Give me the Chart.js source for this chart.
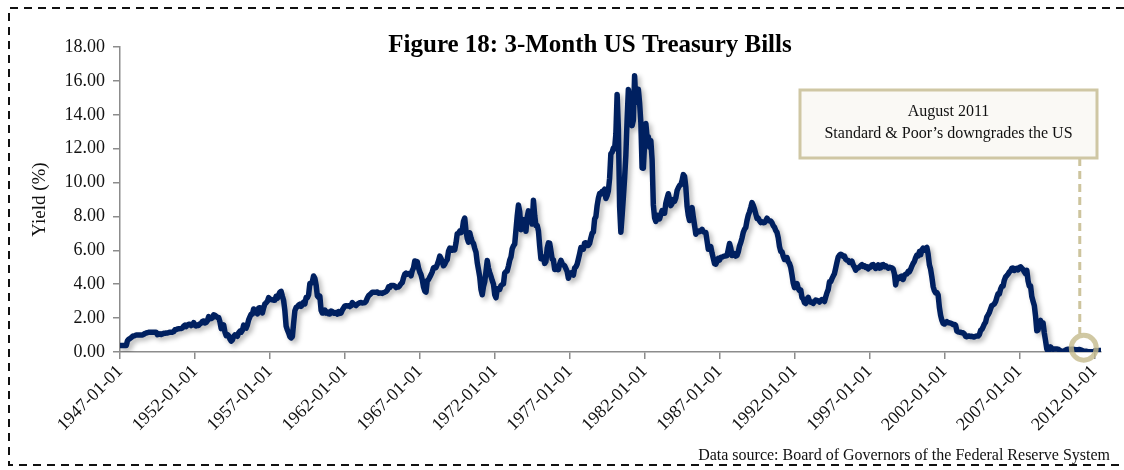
<!DOCTYPE html>
<html>
<head>
<meta charset="utf-8">
<script src="https://cdn.jsdelivr.net/npm/chart.js@4.4.0/dist/chart.umd.min.js"></script>
<style>
  body { margin: 0; background: #fff; }
  #wrap { width: 1124px; height: 470px; }
</style>
</head>
<body>
<div id="wrap"><canvas id="myChart" width="1124" height="470"></canvas></div>
<script>
// monthly 3-month T-bill yield (%), first value is 1947-01
const startYear = 1947;
const yields1940s = [
  0.38,0.38,0.38,0.38,0.38,0.38,0.66,0.75,0.80,0.85,0.92,0.95,
  0.97,1.00,1.00,1.00,1.00,1.00,1.00,1.05,1.09,1.12,1.14,1.16,
  1.17,1.17,1.17,1.17,1.17,1.17,1.02,1.04,1.07,1.04,1.07,1.10
];
const yields1950s = [
  1.10,1.12,1.12,1.15,1.16,1.16,1.17,1.21,1.31,1.32,1.36,1.37,
  1.38,1.39,1.42,1.52,1.58,1.50,1.59,1.64,1.64,1.56,1.61,1.73,
  1.57,1.54,1.59,1.57,1.67,1.70,1.81,1.83,1.71,1.74,1.85,2.09,
  1.96,1.97,2.01,2.19,2.16,2.11,2.04,2.04,1.79,1.38,1.44,1.60,
  1.18,0.97,1.03,0.96,0.76,0.64,0.72,0.92,1.01,0.98,0.93,1.14,
  1.23,1.17,1.28,1.59,1.45,1.41,1.60,1.90,2.07,2.23,2.24,2.54,
  2.41,2.32,2.25,2.60,2.61,2.49,2.31,2.60,2.84,2.90,2.99,3.21,
  3.11,3.10,3.08,3.06,3.06,3.29,3.16,3.37,3.53,3.58,3.29,3.04,
  2.44,1.53,1.30,1.13,0.91,0.83,0.91,1.69,2.44,2.63,2.67,2.77,
  2.82,2.70,2.80,2.95,2.84,3.21,3.20,3.38,4.04,4.05,4.15,4.49
];
const yields1960s = [
  4.35,3.96,3.31,3.23,3.29,2.46,2.30,2.30,2.48,2.30,2.37,2.25,
  2.24,2.42,2.39,2.29,2.29,2.33,2.24,2.39,2.28,2.30,2.48,2.60,
  2.72,2.73,2.72,2.73,2.68,2.73,2.92,2.82,2.78,2.74,2.83,2.87,
  2.91,2.92,2.89,2.90,2.92,2.99,3.18,3.32,3.38,3.45,3.52,3.52,
  3.52,3.53,3.54,3.47,3.48,3.48,3.46,3.50,3.53,3.57,3.64,3.84,
  3.81,3.93,3.93,3.93,3.89,3.80,3.84,3.84,3.92,4.03,4.09,4.38,
  4.59,4.65,4.59,4.62,4.64,4.50,4.80,4.96,5.37,5.35,5.32,4.96,
  4.72,4.56,4.26,3.84,3.60,3.54,4.21,4.27,4.42,4.56,4.73,4.97,
  5.00,4.98,5.17,5.38,5.66,5.52,5.31,5.09,5.19,5.35,5.45,5.94,
  6.13,6.12,6.01,6.11,6.03,6.43,6.98,7.01,7.13,7.04,7.19,7.72
];
const yields1970s = [
  7.91,7.16,6.71,6.48,7.04,6.74,6.50,6.41,6.12,5.90,5.28,4.87,
  4.44,3.70,3.38,3.86,4.14,4.75,5.40,4.94,4.69,4.46,4.22,4.01,
  3.38,3.20,3.73,3.71,3.69,3.91,3.98,4.02,4.66,4.74,4.78,5.07,
  5.41,5.60,6.09,6.26,6.36,7.19,8.01,8.67,8.29,7.22,7.83,7.45,
  7.77,7.12,7.96,8.33,8.23,7.90,7.55,8.96,8.06,7.46,7.47,7.15,
  6.26,5.50,5.49,5.61,5.23,5.34,6.13,6.44,6.42,5.96,5.48,5.44,
  4.87,4.88,5.00,4.86,5.20,5.41,5.23,5.14,5.08,4.92,4.75,4.35,
  4.62,4.67,4.60,4.54,4.96,5.02,5.19,5.49,5.81,6.16,6.10,6.07,
  6.44,6.45,6.29,6.29,6.41,6.73,7.01,7.08,7.85,7.99,8.64,9.08,
  9.35,9.32,9.48,9.46,9.61,9.06,9.24,9.52,10.26,11.70,11.79,12.04
];
const yields1980s = [
  12.00,12.86,15.20,13.20,8.58,7.07,8.06,9.13,10.27,11.62,13.73,15.49,
  15.02,14.79,13.36,13.69,16.30,14.73,14.95,15.51,14.70,13.54,10.86,10.85,
  12.28,13.48,12.68,12.70,12.09,12.47,11.35,8.68,7.92,7.71,8.07,7.94,
  7.86,8.11,8.35,8.21,8.19,8.79,9.08,9.34,9.00,8.64,8.76,9.00,
  8.90,9.09,9.52,9.69,9.83,9.87,10.12,10.47,10.37,9.74,8.61,8.06,
  7.76,8.27,8.52,7.95,7.48,6.95,7.08,7.14,7.10,7.16,7.24,7.10,
  7.07,7.06,6.56,6.06,6.15,6.21,5.83,5.53,5.21,5.18,5.35,5.53,
  5.43,5.59,5.59,5.64,5.66,5.67,5.69,6.04,6.40,6.13,5.69,5.77,
  5.81,5.66,5.70,5.91,6.26,6.46,6.73,7.06,7.24,7.35,7.76,8.07,
  8.27,8.53,8.82,8.65,8.43,8.15,7.88,7.90,7.75,7.64,7.69,7.63
];
const yields1990s = [
  7.64,7.74,7.90,7.77,7.74,7.73,7.62,7.45,7.36,7.17,7.06,6.74,
  6.22,5.94,5.91,5.65,5.46,5.57,5.58,5.33,5.22,4.99,4.56,4.07,
  3.80,3.84,4.04,3.75,3.63,3.66,3.21,3.13,2.91,2.86,3.13,3.22,
  3.00,2.93,2.95,2.87,2.96,3.07,3.04,3.02,2.95,3.02,3.10,3.06,
  2.98,3.25,3.50,3.68,4.14,4.14,4.33,4.48,4.62,4.95,5.29,5.60,
  5.71,5.77,5.73,5.65,5.67,5.47,5.42,5.40,5.28,5.28,5.36,5.14,
  5.00,4.83,4.96,4.95,5.02,5.09,5.15,5.05,5.09,4.99,5.03,4.91,
  5.03,5.01,5.14,5.16,5.05,4.93,5.05,5.14,4.95,4.97,5.14,5.16,
  5.04,5.09,5.03,4.95,5.00,4.98,4.96,4.90,4.61,3.96,4.41,4.39,
  4.34,4.45,4.48,4.28,4.51,4.59,4.60,4.76,4.73,4.88,5.07,5.23
];
const yields2000s = [
  5.34,5.57,5.72,5.67,5.92,5.74,6.03,6.13,6.01,6.11,6.17,5.77,
  5.15,4.88,4.42,3.87,3.62,3.49,3.51,3.36,2.64,2.16,1.87,1.69,
  1.65,1.73,1.79,1.72,1.73,1.70,1.68,1.62,1.63,1.58,1.23,1.19,
  1.17,1.17,1.13,1.13,1.07,0.92,0.90,0.95,0.94,0.92,0.93,0.90,
  0.88,0.93,0.94,0.94,1.02,1.27,1.33,1.48,1.65,1.76,2.07,2.19,
  2.33,2.54,2.74,2.78,2.84,2.97,3.22,3.44,3.42,3.71,3.88,3.89,
  4.24,4.43,4.51,4.60,4.72,4.79,4.95,4.96,4.81,4.92,4.94,4.85,
  4.98,5.03,4.94,4.87,4.73,4.61,4.82,4.20,3.89,3.90,3.27,3.00,
  2.75,2.12,1.26,1.29,1.73,1.86,1.63,1.72,1.13,0.67,0.19,0.03,
  0.13,0.30,0.22,0.16,0.18,0.18,0.18,0.17,0.12,0.07,0.05,0.05
];
const yields2010s = [
  0.06,0.11,0.15,0.16,0.16,0.12,0.16,0.16,0.15,0.13,0.14,0.14,
  0.15,0.13,0.10,0.06,0.04,0.04,0.04,0.02,0.01,0.02,0.01,0.01,
  0.03,0.09,0.08,0.08,0.09,0.09
];

const tickYears = [1947, 1952, 1957, 1962, 1967, 1972, 1977, 1982, 1987, 1992, 1997, 2002, 2007, 2012];
const yTicks = [0, 2, 4, 6, 8, 10, 12, 14, 16, 18];

const noteDate = 2011.3;   // August 2011 marker
const noteYield = 0.25;
const noteLines = ['August 2011', 'Standard & Poor\u2019s downgrades the US'];

const allYields = [].concat(yields1940s, yields1950s, yields1960s, yields1970s, yields1980s, yields1990s, yields2000s, yields2010s);
const points = allYields.map((v, i) => ({ x: startYear + i / 12, y: v }));

const serif = "'Liberation Serif', 'Times New Roman', serif";

const decorPlugin = {
  id: 'decor',
  beforeDraw(chart) {
    const ctx = chart.ctx;
    ctx.save();
    ctx.strokeStyle = '#111';
    ctx.lineWidth = 2;
    ctx.setLineDash([8, 6]);
    ctx.beginPath();
    ctx.moveTo(1124, 8);
    ctx.lineTo(9, 8);
    ctx.lineTo(9, 465);
    ctx.lineTo(1124, 465);
    ctx.stroke();
    ctx.restore();
  },
  beforeDatasetsDraw(chart) {
    const ctx = chart.ctx;
    ctx.save();
    ctx.shadowColor = 'rgba(0,0,0,0.28)';
    ctx.shadowBlur = 5;
    ctx.shadowOffsetX = 3;
    ctx.shadowOffsetY = 3;
  },
  afterDatasetsDraw(chart) {
    chart.ctx.restore();
  },
  afterDraw(chart) {
    const ctx = chart.ctx;
    const xs = chart.scales.x, ys = chart.scales.y;
    ctx.save();
    // title
    ctx.fillStyle = '#000';
    ctx.font = 'bold 25px ' + serif;
    ctx.textAlign = 'center';
    ctx.textBaseline = 'middle';
    ctx.fillText('Figure 18: 3-Month US Treasury Bills', 590, 46);
    // source
    ctx.font = '16px ' + serif;
    ctx.textAlign = 'right';
    ctx.fillStyle = '#111';
    ctx.fillText('Data source: Board of Governors of the Federal Reserve System', 1110, 456);

    // annotation
    const px = xs.getPixelForValue(noteDate);
    const py = ys.getPixelForValue(noteYield);
    const bx = 800, by = 90, bw = 297, bh = 68;
    ctx.strokeStyle = 'rgba(196,186,140,0.85)';
    ctx.lineWidth = 3;
    ctx.setLineDash([8, 5]);
    ctx.beginPath();
    ctx.moveTo(px - 4, by + bh);
    ctx.lineTo(px - 4, py - 14);
    ctx.stroke();
    ctx.setLineDash([]);
    ctx.lineWidth = 5;
    ctx.strokeStyle = 'rgba(196,186,140,0.8)';
    ctx.beginPath();
    ctx.arc(px, py, 12.5, 0, Math.PI * 2);
    ctx.stroke();

    ctx.fillStyle = '#faf9f5';
    ctx.fillRect(bx, by, bw, bh);
    ctx.lineWidth = 3;
    ctx.strokeStyle = '#cfc7a4';
    ctx.strokeRect(bx, by, bw, bh);
    ctx.fillStyle = '#111';
    ctx.font = '16px ' + serif;
    ctx.textAlign = 'center';
    ctx.fillText(noteLines[0], bx + bw / 2, 112);
    ctx.fillText(noteLines[1], bx + bw / 2, 134);
    ctx.restore();
  }
};

const ctx = document.getElementById('myChart').getContext('2d');

const myChart = new Chart(ctx, {
  type: 'line',
  data: {
    datasets: [{
      label: '3-Month US Treasury Bills',
      data: points,
      borderColor: '#002060',
      borderWidth: 5.5,
      pointRadius: 0,
      tension: 0,
      borderJoinStyle: 'round',
      borderCapStyle: 'round',
      fill: false
    }]
  },
  options: {
    responsive: false,
    animation: false,
    layout: { padding: { left: 10, right: 23, top: 47, bottom: 0 } },
    plugins: {
      legend: { display: false },
      tooltip: { enabled: false }
    },
    scales: {
      x: {
        type: 'linear',
        min: 1947,
        max: 2012.45,
        afterBuildTicks: (s) => { s.ticks = tickYears.map(v => ({ value: v })); },
        afterFit: (s) => { s.height = 118; },
        ticks: {
          autoSkip: false,
          minRotation: 45,
          maxRotation: 45,
          padding: 2,
          color: '#111',
          font: { family: serif, size: 18 },
          callback: (v) => v + '-01-01'
        },
        grid: { drawOnChartArea: false, color: '#8c8c8c', tickLength: 7, lineWidth: 1.5 },
        border: { color: '#8c8c8c', width: 1.5 }
      },
      y: {
        min: 0,
        max: 18,
        afterBuildTicks: (s) => { s.ticks = yTicks.map(v => ({ value: v })); },
        afterFit: (s) => { s.width = 110; },
        ticks: {
          padding: 8,
          color: '#111',
          font: { family: serif, size: 18 },
          callback: (v) => v.toFixed(2)
        },
        title: {
          display: true,
          text: 'Yield (%)',
          color: '#111',
          font: { family: serif, size: 19 },
          padding: { top: 19, bottom: 0 }
        },
        grid: { drawOnChartArea: false, color: '#8c8c8c', tickLength: 7, lineWidth: 1.5 },
        border: { color: '#8c8c8c', width: 1.5 }
      }
    }
  },
  plugins: [decorPlugin]
});
</script>
</body>
</html>
